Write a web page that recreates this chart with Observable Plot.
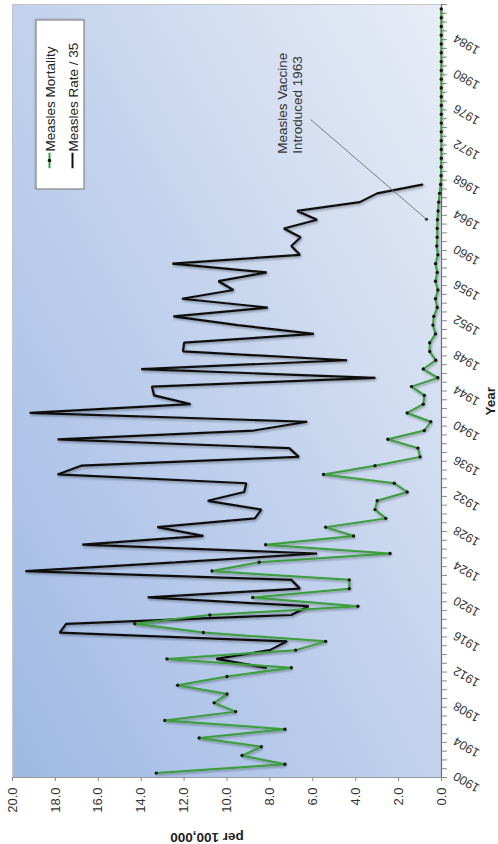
<!DOCTYPE html>
<html>
<head>
<meta charset="utf-8">
<script src="https://cdn.jsdelivr.net/npm/d3@7"></script>
<script src="https://cdn.jsdelivr.net/npm/@observablehq/plot@0.6"></script>
<style>
  html, body { margin: 0; padding: 0; background: #fff; overflow: hidden; }
  #wrap { position: relative; width: 498px; height: 844px; }
  #legend {
    position: absolute; left: -25.5px; top: 79.5px; width: 170px; height: 49px;
    transform: rotate(-90deg); background: #fff; border: 1px solid #6b6b6b; box-sizing: border-box;
    font: 13.5px "Liberation Sans", Arial, sans-serif; color: #222;
    box-shadow: 1px -1px 2px rgba(0,0,0,0.25);
  }
  #legend .row { position: absolute; left: 20px; height: 18px; display: flex; align-items: center; white-space: nowrap; }
  #legend svg { margin-right: 1px; }
</style>
</head>
<body>
<div id="wrap"></div>
<script>
// ---- data ----
const years = d3.range(1900, 1988); // categories 1900..1987
const mortality = [
  13.3, 7.3, 9.3, 8.4, 11.3, 7.3, 12.9, 9.6, 10.6, 10.0,
  12.3, 10.0, 7.0, 12.8, 6.8, 5.4, 11.1, 14.3, 10.8, 3.9,
  8.8, 4.3, 4.3, 10.7, 8.5, 2.4, 8.2, 4.1, 5.4, 2.6,
  3.1, 3.0, 1.6, 2.2, 5.5, 3.1, 1.0, 1.1, 2.5, 0.8,
  0.5, 1.6, 0.85, 0.8, 1.4, 0.17, 0.85, 0.27, 0.55, 0.55,
  0.28, 0.4, 0.36, 0.2, 0.28, 0.17, 0.28, 0.2, 0.28, 0.17,
  0.22, 0.2, 0.2, 0.19, 0.16, 0.13, 0.09, 0.04, 0.02, 0.02,
  0.01, 0.01, 0.01, 0.01, 0.01, 0.01, 0.01, 0.01, 0.01, 0.01,
  0.01, 0.01, 0.01, 0.01, 0.01, 0.01, 0.01, 0.01
];
const rateYears = d3.range(1912, 1968);
const rate35 = [
  8.2, 10.5, 8.0, 7.2, 17.8, 17.5, 7.0, 6.2,
  13.7, 6.6, 7.0, 19.4, 12.4, 5.8, 16.75, 11.1, 13.25, 8.7,
  8.4, 10.9, 9.2, 9.1, 17.9, 16.8, 6.65, 7.1, 17.9, 8.75,
  6.26, 19.2, 11.7, 13.4, 13.5, 3.08, 14.0, 4.4, 12.05, 12.0,
  5.95, 9.5, 12.5, 8.1, 12.1, 9.7, 10.4, 8.15, 12.55, 6.6,
  7.0, 6.57, 7.35, 5.8, 6.73, 3.81, 3.0, 0.9
];
const valueTicks = [0, 2, 4, 6, 8, 10, 12, 14, 16, 18, 20];
const yearLabels = [1900, 1904, 1908, 1912, 1916, 1920, 1924, 1928, 1932, 1936, 1940, 1944, 1948, 1952, 1956, 1960, 1964, 1968, 1972, 1976, 1980, 1984];
const yearTickMarks = d3.range(1899.5, 1988, 1); // category boundaries
const seriesNames = ["Measles Mortality", "Measles Rate / 35"];
const seriesColors = ["#3a9d3a", "#111111"];
const noteText = ["Measles Vaccine\nIntroduced 1963"];
const noteTextPos = [{year: 1970.5, value: 7.06}];
const noteArrow = [{yearFrom: 1974.4, valueFrom: 6.1, yearTo: 1963.05, valueTo: 0.7}];
const axisTitles = {x: "per 100,000", y: "Year"};

const mortData = years.map((year, i) => ({year, value: mortality[i]}));
const rateData = rateYears.map((year, i) => ({year, value: rate35[i]}));

const font = "'Liberation Sans', Arial, Helvetica, sans-serif";

const chart = Plot.plot({
  width: 498,
  height: 844,
  marginLeft: 12,
  marginRight: 57,
  marginTop: 4,
  marginBottom: 67,
  x: {domain: [20, 0]},
  y: {domain: [1899.5, 1987.5]},
  style: {fontFamily: font, background: "transparent", color: "#222", overflow: "visible"},
  marks: [
    Plot.frame({fill: "url(#bgGrad)", stroke: "#c6c6c6"}),
    Plot.ruleY([1899.5], {stroke: "#9a9a9a"}),
    Plot.ruleX([0], {stroke: "#6e6e6e", strokeWidth: 1.2}),
    Plot.axisX({ticks: valueTicks, tickSize: 4, fill: "none", stroke: "#8a8a8a", label: null}),
    Plot.axisY({anchor: "right", ticks: yearTickMarks, tickSize: 5, fill: "none", stroke: "#8a8a8a", label: null}),
    Plot.line(rateData, {x: "value", y: "year", stroke: seriesColors[1], strokeWidth: 2.2, strokeLinejoin: "miter"}),
    Plot.line(mortData, {x: "value", y: "year", stroke: seriesColors[0], strokeWidth: 2}),
    Plot.dot(mortData, {x: "value", y: "year", r: 1.7, fill: "#151515", stroke: null}),
    Plot.link(noteArrow, {x1: "valueFrom", y1: "yearFrom", x2: "valueTo", y2: "yearTo", stroke: "#7a7a7a", strokeWidth: 1}),
    Plot.dot(noteArrow, {x: "valueTo", y: "yearTo", r: 1.6, fill: "#333", stroke: null}),
    Plot.text(noteTextPos, {x: "value", y: "year", text: () => noteText[0], rotate: -90, textAnchor: "start", lineAnchor: "middle", lineHeight: 1.1, fontSize: 13.5, fill: "#333"}),
    Plot.text(valueTicks, {x: d => d, frameAnchor: "bottom", dy: 10, rotate: -90, textAnchor: "end", lineAnchor: "middle", text: d => d.toFixed(1), fontSize: 13, fill: "#333"}),
    Plot.text(yearLabels, {y: d => d, frameAnchor: "right", dx: 13, dy: 2, rotate: -150, textAnchor: "end", lineAnchor: "middle", text: d => String(d), fontSize: 12.5, fill: "#333"}),
    Plot.text([axisTitles.y], {frameAnchor: "right", dx: 49, dy: -4, rotate: -90, text: d => d, fontWeight: "bold", fontSize: 13.5, fill: "#222"}),
    Plot.text([axisTitles.x], {frameAnchor: "bottom", dx: -20, dy: 55, rotate: 180, text: d => d, fontWeight: "bold", fontSize: 13.5, fill: "#222"})
  ]
});

// background gradient + line shadow
const svg = d3.select(chart);
const defs = svg.insert("defs", ":first-child");
const grad = defs.append("linearGradient").attr("id", "bgGrad")
  .attr("x1", 0).attr("y1", 1).attr("x2", 1).attr("y2", 0);
grad.append("stop").attr("offset", "0%").attr("stop-color", "#9fb9e4");
grad.append("stop").attr("offset", "50%").attr("stop-color", "#c2d2ed");
grad.append("stop").attr("offset", "100%").attr("stop-color", "#e8edf6");
const filt = defs.append("filter").attr("id", "lineShadow")
  .attr("x", "-5%").attr("y", "-5%").attr("width", "110%").attr("height", "110%");
filt.append("feDropShadow").attr("dx", 1).attr("dy", 1.5).attr("stdDeviation", 1.2)
  .attr("flood-color", "#000").attr("flood-opacity", 0.35);
svg.selectAll('g[aria-label="line"]').attr("filter", "url(#lineShadow)");

const wrap = document.getElementById("wrap");
wrap.appendChild(chart);

// legend (rotated like the chart)
const legend = document.createElement("div");
legend.id = "legend";
seriesNames.forEach((name, i) => {
  const row = document.createElement("div");
  row.className = "row";
  row.style.top = (i === 0 ? 4 : 27) + "px";
  const icon = i === 0
    ? `<svg width="16" height="8"><line x1="0" y1="4" x2="16" y2="4" stroke="${seriesColors[0]}" stroke-width="2"/><circle cx="8" cy="4" r="1.8" fill="#151515"/></svg>`
    : `<svg width="16" height="8"><line x1="0" y1="4" x2="16" y2="4" stroke="${seriesColors[1]}" stroke-width="2"/></svg>`;
  row.innerHTML = icon + `<span>${name}</span>`;
  legend.appendChild(row);
});
wrap.appendChild(legend);
</script>
</body>
</html>
